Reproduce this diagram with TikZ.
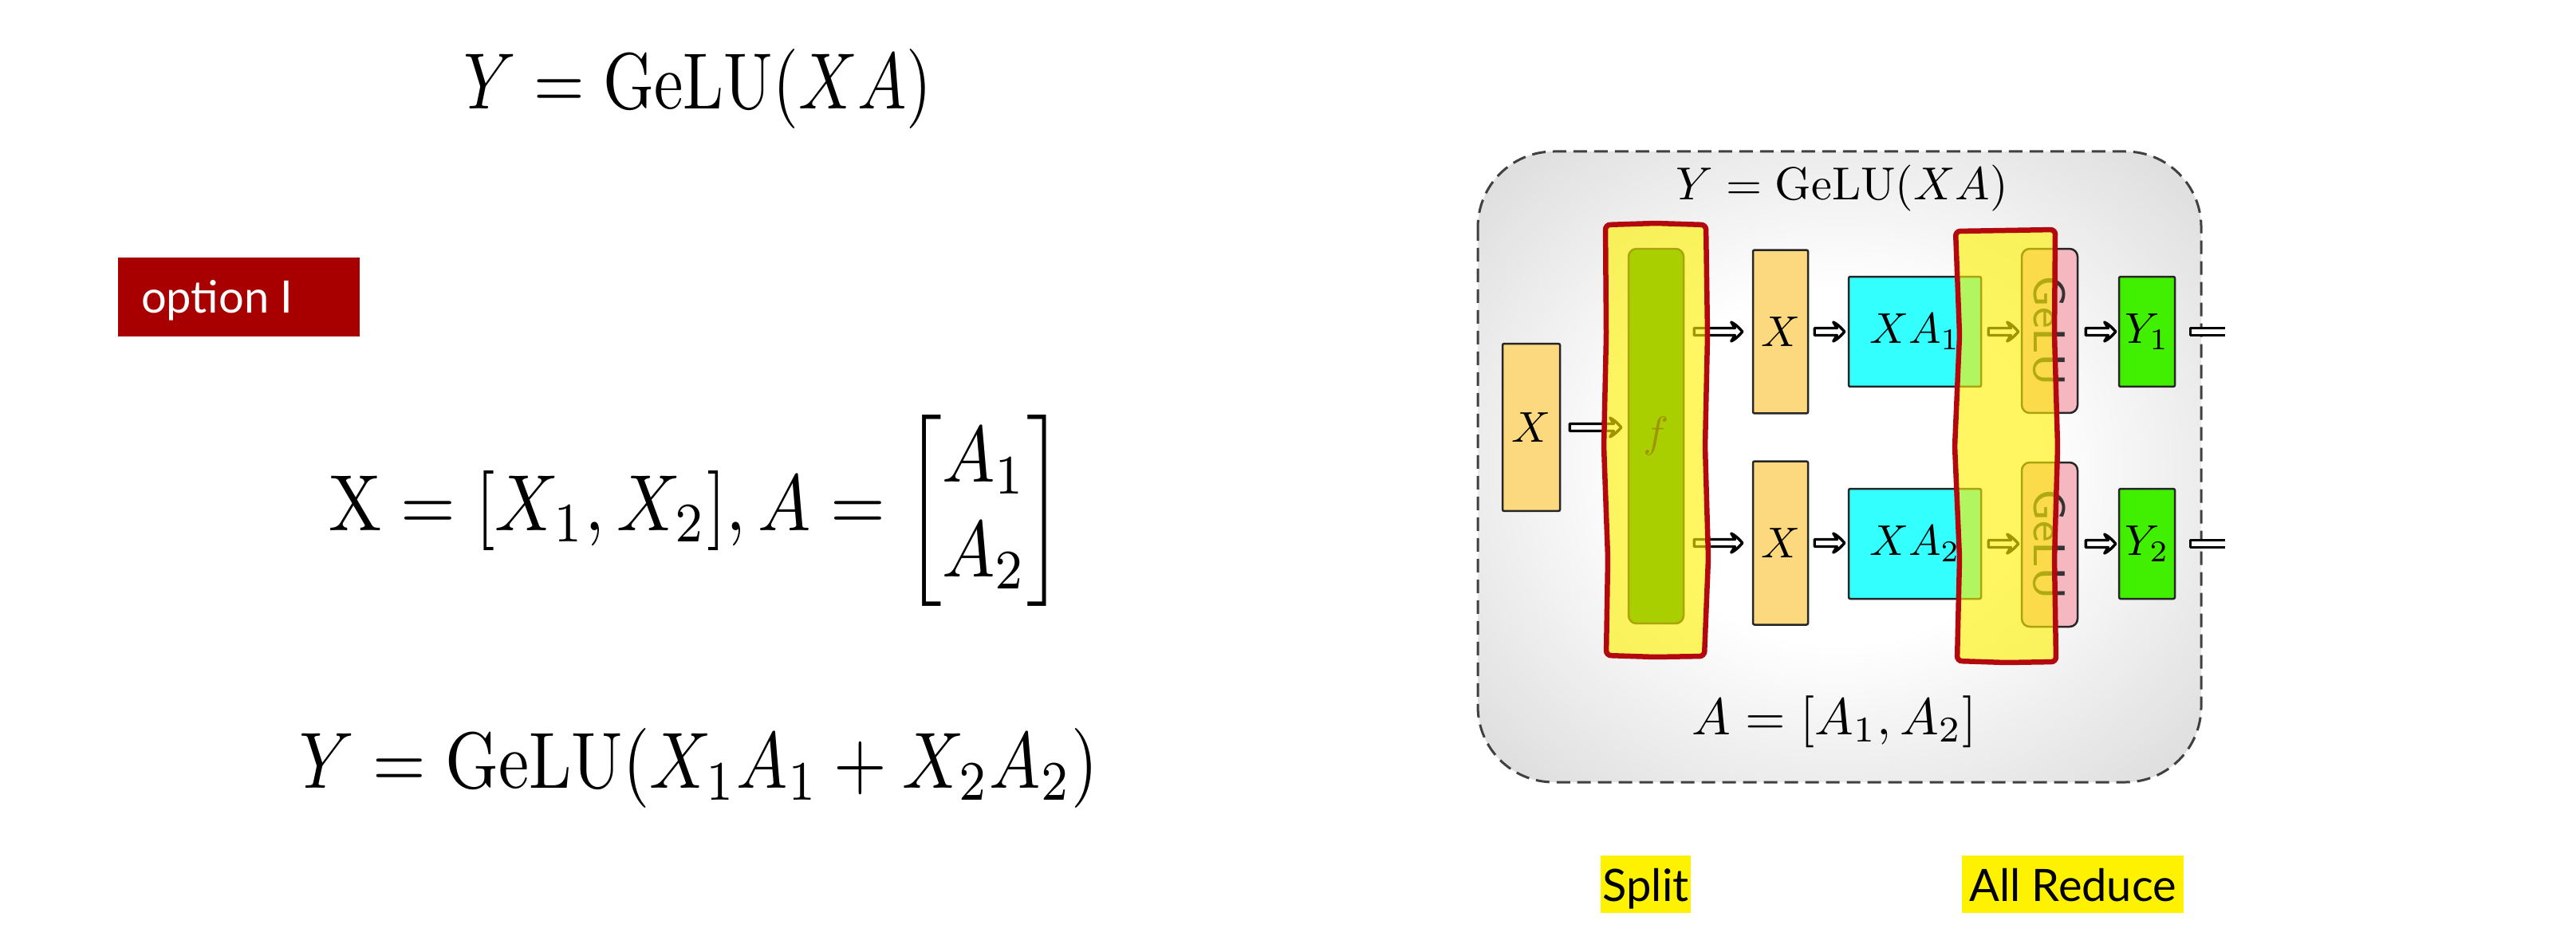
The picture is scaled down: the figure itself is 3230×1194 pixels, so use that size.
\documentclass[tikz,border=0pt]{standalone}
\usepackage{amsmath}
\usepackage{graphicx}
\usepackage{fontspec}
\usetikzlibrary{arrows.meta,calc}
\newfontfamily\gillfont{Lato}
\definecolor{optred}{RGB}{168,0,0}
\definecolor{xorange}{RGB}{252,217,126}
\definecolor{cyanbox}{RGB}{51,255,255}
\definecolor{ygreen}{RGB}{64,240,0}
\definecolor{gpink}{RGB}{245,183,192}
\definecolor{fgreen}{RGB}{30,152,0}
\definecolor{hlred}{RGB}{178,8,14}
\pgfdeclareradialshading{bgshade}{\pgfpoint{0bp}{0bp}}{color(0bp)=(white); color(14bp)=(white); color(50bp)=(black!24); color(72bp)=(black!36)}
\newcommand{\bm}[2]{\scalebox{#1}[1]{\fontsize{10}{12}\selectfont #2}}
\newcommand{\dm}[2]{\scalebox{#1}{\fontsize{10}{12}\selectfont #2}}
\newcommand{\lm}[1]{\scalebox{0.54}{\fontsize{10}{12}\selectfont #1}}
\tikzset{
  box/.style={draw=black!85, line width=0.25pt, inner sep=0pt},
  xbox/.style={box, fill=xorange, minimum width=6.9pt, minimum height=20.5pt, rounded corners=0.2pt},
  fbox/.style={box, fill=fgreen, minimum width=6.9pt, minimum height=47pt, rounded corners=1pt},
  xabox/.style={box, fill=cyanbox, minimum width=16.6pt, minimum height=13.8pt, rounded corners=0.2pt},
  gbox/.style={box, fill=gpink, minimum width=7pt, minimum height=20.6pt, rounded corners=1pt, font=\sffamily\fontsize{5.6}{6}\selectfont, text=black!80},
  ybox/.style={box, fill=ygreen, minimum width=7pt, minimum height=13.8pt, rounded corners=0.2pt},
  darrow/.style={draw=black, fill=white, line width=0.34pt, line join=round,
    to path={let \p1=(\tikztostart), \p2=(\tikztotarget) in
      (\x1,\y1+0.45pt) -- (\x2-0.95pt,\y1+0.45pt) -- (\x2-1.4pt,\y1+1.2pt)
      .. controls (\x2-0.85pt,\y1+0.95pt) and (\x2-0.3pt,\y1+0.35pt) .. (\x2,\y1)
      .. controls (\x2-0.3pt,\y1-0.35pt) and (\x2-0.85pt,\y1-0.95pt) .. (\x2-1.4pt,\y1-1.2pt)
      -- (\x2-0.95pt,\y1-0.45pt) -- (\x1,\y1-0.45pt) -- cycle}},
  stubline/.style={draw=black, fill=white, line width=0.34pt, line join=round,
    to path={let \p1=(\tikztostart), \p2=(\tikztotarget) in
      (\x2,\y1+0.45pt) -- (\x1,\y1+0.45pt) -- (\x1,\y1-0.45pt) -- (\x2,\y1-0.45pt)}},
  hlfill/.style={fill=yellow, fill opacity=0.62},
  hlborder/.style={draw=hlred, line width=0.65pt, rounded corners=0.6pt},
  plain/.style={inner sep=0pt},
  tag/.style={fill=yellow, inner xsep=0.3pt, inner ysep=0pt, text height=5.7pt, text depth=1.5pt, font=\gillfont\fontsize{5.6}{6}\selectfont}
}
\begin{document}
\begin{tikzpicture}[x=0.1pt, y=-0.1pt]
\useasboundingbox (0,0) rectangle (3230,1194);
\fill[white] (0,0) rectangle (3230,1194);

% ---------- left side ----------
\node[plain, anchor=base] (eq1) at (875,137) {\bm{0.818}{$Y = \mathrm{GeLU}(XA)$}};
\node[fill=optred, inner sep=0pt, minimum width=30.3pt, minimum height=9.9pt, anchor=north west] (opt) at (146,321) {};
\node[anchor=base west, inner sep=0pt, text=white, font=\gillfont\fontsize{5.6}{6}\selectfont] (optt) at (175,393) {option I};
\node[plain, anchor=base west] (eq2) at (410,665) {\bm{0.885}{$\mathrm{X} = [X_1, X_2], A = \begin{bmatrix} A_1 \\ A_2 \end{bmatrix}$}};
\node[plain, anchor=base west] (eq3) at (373,988) {\bm{0.857}{$Y = \mathrm{GeLU}(X_1A_1 + X_2A_2)$}};

% ---------- right diagram ----------
\path[shading=bgshade, rounded corners=9.5pt] (1853,190) rectangle (2760,981);
\draw[black!75, line width=0.3pt, dash pattern=on 1.7pt off 0.9pt, rounded corners=9.5pt] (1853,190) rectangle (2760,981);

\node[plain, anchor=base] (title) at (2310,251) {\dm{0.58}{$Y = \mathrm{GeLU}(XA)$}};
\node[plain, anchor=base] (bottom) at (2300,921) {\dm{0.65}{$A = [A_1, A_2]$}};

\node[xbox, minimum width=7.2pt, minimum height=21pt] (LX) at (1920,536) {\lm{$X$}};
\node[fbox] (F) at (2076.5,547) {\lm{$f$}};
\node[xbox] (Xu) at (2232.5,416) {\lm{$X$}};
\node[xbox] (Xl) at (2232.5,681) {\lm{$X$}};
\node[xabox] (XAu) at (2401,416) {\lm{$XA_1$}};
\node[xabox] (XAl) at (2401,682) {\lm{$XA_2$}};
\node[gbox] (Gu) at (2570,415) {\rotatebox{-90}{GeLU}};
\node[gbox] (Gl) at (2570,683) {\rotatebox{-90}{GeLU}};
\node[ybox] (Yu) at (2692,416) {\lm{$Y_1$}};
\node[ybox] (Yl) at (2692,682) {\lm{$Y_2$}};

\draw[darrow] ($(LX.east)+(11,0)$) to ($(LX.east -| F.west)+(-8,0)$);
\draw[darrow] ($(F.east |- Xu.west)+(12,0)$) to ($(Xu.west)+(-12,0)$);
\draw[darrow] ($(F.east |- Xl.west)+(12,0)$) to ($(Xl.west)+(-12,0)$);
\draw[darrow] ($(Xu.east)+(7,0)$) to ($(Xu.east -| XAu.west)+(-4,0)$);
\draw[darrow] ($(Xl.east)+(7,0)$) to ($(Xl.east -| XAl.west)+(-4,0)$);
\draw[darrow] ($(XAu.east)+(8,0)$) to ($(XAu.east -| Gu.west)+(-3,0)$);
\draw[darrow] ($(XAl.east)+(8,0)$) to ($(XAl.east -| Gl.west)+(-3,0)$);
\draw[darrow] ($(Yu.west -| Gu.east)+(9,0)$) to ($(Yu.west)+(-3,0)$);
\draw[darrow] ($(Yl.west -| Gl.east)+(9,0)$) to ($(Yl.west)+(-3,0)$);
% stubs leaving the picture
\draw[stubline] ($(Yu.east)+(18,0)$) to ($(Yu.east)+(62,0)$);
\draw[stubline] ($(Yl.east)+(18,0)$) to ($(Yl.east)+(62,0)$);

% highlights
\fill[hlfill] (2013,282) -- (2076,280) -- (2139,282) -- (2141,420) -- (2138,560) -- (2142,700) -- (2137,823) -- (2075,824) -- (2014,822) -- (2016,700) -- (2011,560) -- (2014,420) -- cycle;
\draw[hlborder] (2013,282) -- (2076,280) -- (2139,282) -- (2141,420) -- (2138,560) -- (2142,700) -- (2137,823) -- (2075,824) -- (2014,822) -- (2016,700) -- (2011,560) -- (2014,420) -- cycle;
\fill[hlfill] (2452,290) -- (2515,289) -- (2577,288) -- (2576,420) -- (2580,560) -- (2576,700) -- (2578,830) -- (2515,831) -- (2454,829) -- (2457,700) -- (2451,560) -- (2457,420) -- cycle;
\draw[hlborder] (2452,290) -- (2515,289) -- (2577,288) -- (2576,420) -- (2580,560) -- (2576,700) -- (2578,830) -- (2515,831) -- (2454,829) -- (2457,700) -- (2451,560) -- (2457,420) -- cycle;

% bottom tags
\node[tag, minimum width=10.9pt] (split) at (2063.5,1109) {Split};
\node[tag, minimum width=27.8pt] (allred) at (2599,1109) {All Reduce};
\end{tikzpicture}
\end{document}
